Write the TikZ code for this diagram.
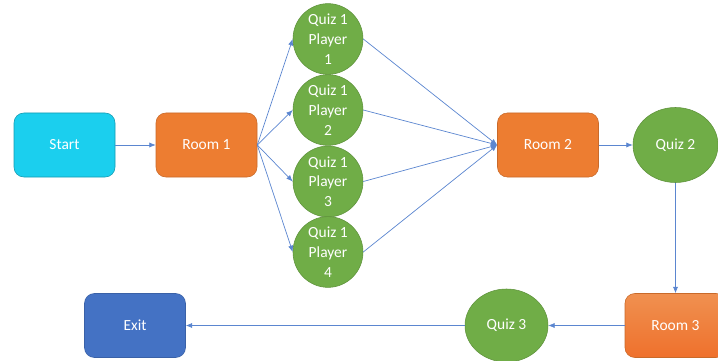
\documentclass[tikz,border=0pt]{standalone}
\usepackage{fontspec}
\setmainfont{Carlito}
\usepackage{tikz}
\usetikzlibrary{shapes.geometric, arrows.meta, positioning}

\definecolor{startcyan}{HTML}{1BCFEE}
\definecolor{roomorange}{HTML}{ED7D31}
\definecolor{quizgreen}{HTML}{70AD47}
\definecolor{exitblue}{HTML}{4472C4}
\definecolor{flowblue}{HTML}{5B86D0}

\tikzset{
  roombox/.style={
    draw, rounded corners=7pt, thin, align=center,
    font=\fontsize{11}{13}\selectfont, text=white,
    minimum width=101*0.025cm, minimum height=64*0.025cm, inner sep=0pt
  },
  quizball/.style={
    ellipse, draw, thin, align=center, fill=quizgreen, draw=quizgreen!85!black,
    font=\fontsize{11}{14}\selectfont, text=white, inner sep=0pt
  },
  flowarrow/.style={
    -{Latex[length=1.6mm, width=1.3mm]}, line width=0.5pt, color=flowblue
  },
}

\begin{document}
\begin{tikzpicture}[x=0.025cm, y=-0.025cm]
  \useasboundingbox (0,0) rectangle (718,361);

  % ── Top row ────────────────────────────────────────────────────
  \node[roombox, fill=startcyan, draw=startcyan!75!black] (start) at (64.5,145) {Start};
  \node[roombox, fill=roomorange, draw=roomorange!85!black] (room1) at (206.5,145) {Room 1};

  % Quiz 1, one per player
  \foreach \p/\y in {1/39, 2/110, 3/181.5, 4/252} {
    \node[quizball, minimum width=70*0.025cm, minimum height=64*0.025cm]
      (quiz1p\p) at (328,\y) {Quiz 1\\Player\\\p};
  }

  \node[roombox, fill=roomorange, draw=roomorange!85!black] (room2) at (548,145) {Room 2};
  \node[quizball, minimum width=85*0.025cm, minimum height=75*0.025cm]
    (quiz2) at (675.5,145) {Quiz 2};

  % ── Bottom row ─────────────────────────────────────────────────
  \node[roombox, top color=roomorange!85!white, bottom color=roomorange!90!red,
        draw=roomorange!85!black] (room3) at (675.5,325.5) {Room 3};
  \node[quizball, minimum width=83*0.025cm, minimum height=73*0.025cm]
    (quiz3) at (506.5,325.5) {Quiz 3};
  \node[roombox, fill=exitblue, draw=exitblue!85!black] (exit) at (135,325.5) {Exit};

  % ── Connectors ─────────────────────────────────────────────────
  \draw[flowarrow] (start) -- (room1);
  \foreach \p in {1,...,4} {
    \draw[flowarrow] (room1.east) -- (quiz1p\p.west);
    \draw[flowarrow] (quiz1p\p.east) -- (room2.west);
  }
  \draw[flowarrow] (room2) -- (quiz2);
  \draw[flowarrow] (quiz2) -- (room3);
  \draw[flowarrow] (room3) -- (quiz3);
  \draw[flowarrow] (quiz3) -- (exit);
\end{tikzpicture}
\end{document}
